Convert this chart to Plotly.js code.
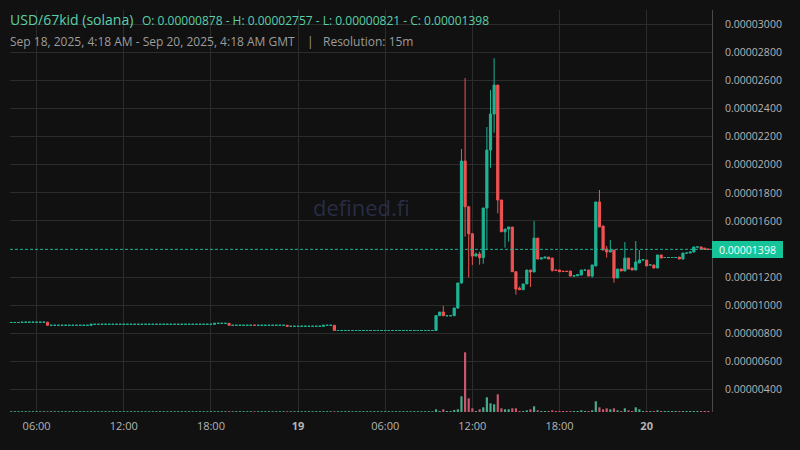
<!DOCTYPE html>
<html>
<head>
<meta charset="utf-8">
<script src="https://cdn.plot.ly/plotly-3.0.1.min.js"></script>
<style>html,body{margin:0;padding:0;background:#111111;}#chart{width:800px;height:450px;}</style>
</head>
<body>
<div id="chart"></div>
<script>
// Prices are in micro-USD (1e-6 USD); 15-minute candles starting 2025-09-18 04:15 GMT
const UNIT = 1e-6;
const START_UTC = Date.UTC(2025, 8, 18, 4, 15);
const STEP_MS = 15 * 60 * 1000;

const openMicro = [
  8.78,8.78,8.78,8.78,8.80,8.80,8.80,8.80,8.80,8.80,
  8.80,8.58,8.58,8.58,8.58,8.58,8.58,8.58,8.58,8.58,
  8.58,8.58,8.58,8.65,8.65,8.65,8.65,8.65,8.65,8.65,
  8.65,8.65,8.65,8.65,8.65,8.65,8.65,8.65,8.65,8.65,
  8.65,8.65,8.65,8.65,8.65,8.65,8.65,8.65,8.65,8.65,
  8.65,8.65,8.65,8.65,8.65,8.65,8.65,8.72,8.72,8.72,
  8.72,8.58,8.58,8.58,8.58,8.58,8.58,8.59,8.58,8.58,
  8.58,8.58,8.58,8.58,8.58,8.58,8.58,8.51,8.51,8.51,
  8.51,8.51,8.51,8.51,8.51,8.51,8.51,8.58,8.58,8.58,
  8.21,8.21,8.21,8.21,8.21,8.21,8.21,8.21,8.21,8.21,
  8.21,8.21,8.21,8.21,8.21,8.21,8.21,8.21,8.21,8.21,
  8.21,8.21,8.21,8.21,8.21,8.21,8.21,8.21,9.27,9.52,
  9.26,9.26,9.26,9.81,11.59,20.26,17.01,15.09,13.50,13.65,
  13.39,16.92,21.04,23.60,25.66,17.49,15.23,15.42,15.57,12.39,
  11.22,11.11,11.52,12.51,12.37,14.78,13.29,13.36,13.43,13.36,
  12.51,12.51,12.42,12.42,12.44,12.08,12.10,12.15,12.51,12.51,
  12.08,12.80,17.35,15.64,14.00,13.79,13.93,11.94,12.58,12.44,
  13.36,12.65,12.51,13.01,13.22,13.22,12.87,12.87,12.65,13.58,
  13.40,13.40,13.40,13.40,13.43,13.29,13.72,13.72,13.79,14.15,
  14.15,14.07,14.00
];
const highMicro = [
  8.78,8.78,8.78,8.80,8.80,8.80,8.80,8.80,8.80,8.80,
  8.81,8.58,8.58,8.58,8.58,8.58,8.58,8.58,8.58,8.58,
  8.58,8.58,8.65,8.65,8.65,8.65,8.65,8.65,8.65,8.65,
  8.65,8.65,8.65,8.65,8.65,8.65,8.65,8.65,8.65,8.65,
  8.65,8.65,8.65,8.65,8.65,8.65,8.65,8.65,8.65,8.65,
  8.65,8.65,8.65,8.65,8.65,8.65,8.72,8.72,8.72,8.72,
  8.72,8.58,8.58,8.58,8.58,8.58,8.58,8.59,8.58,8.58,
  8.58,8.58,8.58,8.58,8.58,8.58,8.58,8.51,8.51,8.51,
  8.51,8.51,8.51,8.51,8.51,8.51,8.58,8.58,8.58,8.58,
  8.21,8.21,8.21,8.21,8.21,8.21,8.21,8.21,8.21,8.21,
  8.21,8.21,8.21,8.21,8.21,8.21,8.21,8.21,8.21,8.21,
  8.21,8.21,8.21,8.21,8.21,8.21,8.21,9.27,9.52,9.95,
  9.26,9.26,9.81,11.59,21.11,26.16,17.06,15.09,13.75,13.81,
  16.92,22.68,25.31,27.57,25.66,17.49,15.42,15.57,15.57,12.39,
  11.33,11.52,12.51,12.51,15.99,14.78,13.43,13.43,13.43,13.36,
  12.51,12.51,12.42,12.42,12.44,12.10,12.18,12.51,12.51,12.51,
  12.87,17.35,18.20,15.64,14.22,14.64,13.93,12.58,12.58,14.50,
  13.36,12.65,14.57,13.93,13.24,13.22,12.87,12.87,13.58,13.58,
  13.40,13.40,13.40,13.40,13.43,13.72,13.72,13.79,14.15,14.15,
  14.15,14.07,14.00
];
const lowMicro = [
  8.78,8.78,8.78,8.78,8.80,8.80,8.80,8.80,8.80,8.80,
  8.58,8.58,8.58,8.58,8.58,8.58,8.58,8.58,8.58,8.58,
  8.58,8.58,8.58,8.65,8.65,8.65,8.65,8.65,8.65,8.65,
  8.65,8.65,8.65,8.65,8.65,8.65,8.65,8.65,8.65,8.65,
  8.65,8.65,8.65,8.65,8.65,8.65,8.65,8.65,8.65,8.65,
  8.65,8.65,8.65,8.65,8.65,8.65,8.65,8.72,8.72,8.72,
  8.58,8.58,8.58,8.58,8.58,8.58,8.58,8.58,8.58,8.58,
  8.58,8.58,8.58,8.58,8.58,8.58,8.51,8.51,8.51,8.51,
  8.51,8.51,8.51,8.51,8.51,8.51,8.51,8.58,8.58,8.21,
  8.21,8.21,8.21,8.21,8.21,8.21,8.21,8.21,8.21,8.21,
  8.21,8.21,8.21,8.21,8.21,8.21,8.21,8.21,8.21,8.21,
  8.21,8.21,8.21,8.21,8.21,8.21,8.21,8.21,9.27,9.26,
  9.26,9.26,9.26,9.74,11.54,14.88,11.99,12.86,13.50,12.89,
  12.96,13.93,19.78,22.27,16.54,15.23,14.10,14.52,12.39,10.76,
  11.11,11.11,11.52,11.30,12.37,13.29,13.29,13.36,13.29,12.39,
  12.48,12.39,12.41,12.41,12.08,12.08,12.10,12.15,12.51,12.08,
  11.96,12.80,15.57,13.93,13.39,13.79,11.61,11.94,12.44,12.44,
  12.58,12.51,12.51,13.01,13.22,12.80,12.87,12.65,12.65,13.36,
  13.40,13.40,13.40,13.40,13.29,13.29,13.72,13.72,13.79,14.15,
  14.00,13.98,13.98
];
const closeMicro = [
  8.78,8.78,8.78,8.80,8.80,8.80,8.80,8.80,8.80,8.80,
  8.58,8.58,8.58,8.58,8.58,8.58,8.58,8.58,8.58,8.58,
  8.58,8.58,8.65,8.65,8.65,8.65,8.65,8.65,8.65,8.65,
  8.65,8.65,8.65,8.65,8.65,8.65,8.65,8.65,8.65,8.65,
  8.65,8.65,8.65,8.65,8.65,8.65,8.65,8.65,8.65,8.65,
  8.65,8.65,8.65,8.65,8.65,8.65,8.72,8.72,8.72,8.72,
  8.58,8.58,8.58,8.58,8.58,8.58,8.58,8.58,8.58,8.58,
  8.58,8.58,8.58,8.58,8.58,8.58,8.51,8.51,8.51,8.51,
  8.51,8.51,8.51,8.51,8.51,8.51,8.58,8.58,8.58,8.21,
  8.21,8.21,8.21,8.21,8.21,8.21,8.21,8.21,8.21,8.21,
  8.21,8.21,8.21,8.21,8.21,8.21,8.21,8.21,8.21,8.21,
  8.21,8.21,8.21,8.21,8.21,8.21,8.21,9.27,9.52,9.26,
  9.26,9.26,9.81,11.59,20.26,17.01,15.09,13.50,13.65,13.39,
  16.92,21.04,23.60,25.66,17.49,15.23,15.42,15.57,12.39,11.16,
  11.11,11.52,12.51,12.37,14.78,13.29,13.36,13.43,13.29,12.49,
  12.48,12.39,12.41,12.41,12.08,12.10,12.18,12.51,12.51,12.08,
  12.87,17.35,15.57,13.93,13.79,13.93,11.94,12.58,12.44,13.36,
  12.58,12.51,13.08,13.22,13.24,12.80,12.87,12.65,13.58,13.36,
  13.40,13.40,13.40,13.40,13.29,13.72,13.72,13.79,14.15,14.15,
  14.00,13.98,13.98
];
// Volume (relative units)
const volume = [
  0.8,0.8,0.8,0.8,0.8,0.8,0.8,0.8,0.8,0.8,
  0.8,0.8,0.8,0.8,0.8,0.8,0.8,0.8,0.8,0.8,
  0.8,0.8,0.8,0.8,0.8,0.8,0.8,0.8,0.8,0.8,
  0.8,0.8,0.8,0.8,0.8,0.8,0.8,0.8,0.8,0.8,
  0.8,0.8,0.8,0.8,0.8,0.8,0.8,0.8,0.8,0.8,
  0.8,0.8,0.8,0.8,0.8,0.8,0.8,0.8,0.8,0.8,
  0.8,0.8,0.8,0.8,0.8,0.8,0.8,0.8,0.8,0.8,
  0.8,0.8,0.8,0.8,0.8,0.8,0.8,0.8,0.8,0.8,
  0.8,0.8,0.8,0.8,0.8,0.8,0.8,0.8,0.8,0.8,
  0.8,0.8,0.8,0.8,0.8,0.8,0.8,0.8,0.8,0.8,
  0.8,0.8,0.8,0.8,0.8,0.8,0.8,0.8,0.8,0.8,
  0.8,0.8,0.8,0.8,0.8,0.8,0.8,2.7,1,2.7,
  1,1,2,2.7,15.7,59.7,13.7,3.7,1,2.7,
  4.7,14.7,8.7,7.7,17.7,3.7,2.7,2.7,3.7,3.7,
  1,1,1.7,2.7,5.7,1.7,1,1,1,1.7,
  1,1,1,1,1,1,1,1.7,1,1,
  1.7,10.7,4.7,2.7,3.7,2.7,3.7,1.7,1,3.7,
  1.7,1,4.7,2.7,1,1,1,1,1.7,1,
  1,1,1,1,1,1,1,1,1,1,
  1,1,1
];

const xTickVals = ['2025-09-18 06:00','2025-09-18 12:00','2025-09-18 18:00','2025-09-19 00:00',
                   '2025-09-19 06:00','2025-09-19 12:00','2025-09-19 18:00','2025-09-20 00:00'];
const xTickText = ['06:00','12:00','18:00','<b>19</b>','06:00','12:00','18:00','<b>20</b>'];
// price axis ticks (0.00001400 is covered by the last-price tag)
const yTickVals = [0.000004,0.000006,0.000008,0.00001,0.000012,0.000016,0.000018,
                   0.00002,0.000022,0.000024,0.000026,0.000028,0.00003];

const BG = '#111111';
const GRID = '#2c2c2c';
const GREEN = '#1fb394';
const RED = '#f05252';
const FONT = 'Open Sans, Noto Sans, sans-serif';

const times = openMicro.map((_, i) => {
  const d = new Date(START_UTC + i * STEP_MS);
  return d.toISOString().slice(0, 16).replace('T', ' ');
});
const isUp = closeMicro.map((c, i) => c >= openMicro[i]);
function pick(arr, up, scale) {
  const out = [];
  arr.forEach((v, i) => { if (isUp[i] === up) out.push(scale ? v * UNIT : v); });
  return out;
}
const volColors = isUp.map(u => u ? 'rgba(80,200,165,0.85)' : 'rgba(232,100,125,0.85)');
const lastClose = closeMicro[closeMicro.length - 1] * UNIT;

function candleTrace(up) {
  const col = up ? GREEN : RED;
  return {
    type: 'candlestick',
    x: pick(times, up, false),
    open: pick(openMicro, up, true), high: pick(highMicro, up, true),
    low: pick(lowMicro, up, true), close: pick(closeMicro, up, true),
    increasing: {line: {color: col, width: 1}, fillcolor: col},
    decreasing: {line: {color: col, width: 1}, fillcolor: col},
    whiskerwidth: 0, hoverinfo: 'skip'
  };
}

const traces = [
  {
    type: 'bar', x: times, y: volume, yaxis: 'y2',
    marker: {color: volColors, line: {width: 0}},
    hoverinfo: 'skip'
  },
  candleTrace(true),
  candleTrace(false)
];

const layout = {
  width: 800, height: 450,
  paper_bgcolor: BG, plot_bgcolor: BG,
  margin: {l: 10, r: 88, t: 10, b: 38},
  showlegend: false,
  boxmode: 'overlay', boxgap: 0.2, boxgroupgap: 0.25,
  bargap: 0.4,
  font: {family: FONT, color: '#b5b5b5'},
  xaxis: {
    type: 'date', range: ['2025-09-18 04:10', '2025-09-20 04:30'],
    rangeslider: {visible: false},
    tickmode: 'array', tickvals: xTickVals, ticktext: xTickText,
    showgrid: true, gridcolor: GRID, gridwidth: 1, zeroline: false, showline: false,
    ticks: '', ticklabelstandoff: 6,
    tickfont: {family: FONT, size: 11, color: '#b5b5b5'}
  },
  yaxis: {
    side: 'right', range: [2.414e-6, 31.0e-6],
    tickmode: 'array', tickvals: yTickVals, tickformat: '.8f',
    showgrid: true, gridcolor: GRID, gridwidth: 1, zeroline: false,
    showline: true, linecolor: '#4a4a4a', linewidth: 1,
    ticks: '', ticklabelstandoff: 10,
    tickfont: {family: FONT, size: 10.5, color: '#b5b5b5'}
  },
  yaxis2: {overlaying: 'y', range: [0, 402], visible: false, fixedrange: true},
  shapes: [
    {type: 'rect', xref: 'paper', yref: 'paper', x0: -0.02, x1: 0.698, y0: 0.893, y1: 1.03,
     fillcolor: BG, line: {width: 0}, layer: 'between'},
    {type: 'line', xref: 'paper', yref: 'y', x0: 0, x1: 1, y0: lastClose, y1: lastClose,
     line: {color: GREEN, width: 1, dash: '3px,2px'}, layer: 'above'}
  ],
  annotations: [
    {xref: 'paper', yref: 'paper', x: 0, y: 1, xanchor: 'left', yanchor: 'middle', yshift: -9.5,
     text: 'USD/67kid (solana)', showarrow: false, borderpad: 0, borderwidth: 0,
     font: {family: FONT, size: 14, color: '#5ccfa8'}},
    {xref: 'paper', yref: 'paper', x: 0, y: 1, xanchor: 'left', yanchor: 'middle', xshift: 131.7, yshift: -10,
     text: 'O: 0.00000878 - H: 0.00002757 - L: 0.00000821 - C: 0.00001398', showarrow: false, borderpad: 0, borderwidth: 0,
     font: {family: FONT, size: 12, color: '#5ccfa8'}},
    {xref: 'paper', yref: 'paper', x: 0, y: 1, xanchor: 'left', yanchor: 'middle', yshift: -31,
     text: 'Sep 18, 2025, 4:18 AM - Sep 20, 2025, 4:18 AM GMT', showarrow: false, borderpad: 0, borderwidth: 0,
     font: {family: FONT, size: 12, color: '#9c9c9c'}},
    {xref: 'paper', yref: 'paper', x: 0, y: 1, xanchor: 'left', yanchor: 'middle', xshift: 297, yshift: -31,
     text: '|', showarrow: false, borderpad: 0, borderwidth: 0,
     font: {family: FONT, size: 12, color: '#9c9c9c'}},
    {xref: 'paper', yref: 'paper', x: 0, y: 1, xanchor: 'left', yanchor: 'middle', xshift: 313, yshift: -31,
     text: 'Resolution: 15m', showarrow: false, borderpad: 0, borderwidth: 0,
     font: {family: FONT, size: 12, color: '#9c9c9c'}},
    {xref: 'paper', yref: 'paper', x: 0.501, y: 0.51, xanchor: 'center', yanchor: 'middle',
     text: 'defined.fi', showarrow: false,
     font: {family: FONT, size: 22, color: 'rgba(70,80,135,0.45)'}},
    {xref: 'paper', yref: 'y', x: 1, y: lastClose, xanchor: 'left', yanchor: 'middle',
     text: lastClose.toFixed(8), showarrow: false, bgcolor: '#16c49a', borderwidth: 0, borderpad: 1,
     width: 69, height: 15, align: 'center',
     font: {family: FONT, size: 10.5, color: '#f2fffb'}}
  ]
};

Plotly.newPlot('chart', traces, layout, {staticPlot: true, displayModeBar: false});
</script>
</body>
</html>
